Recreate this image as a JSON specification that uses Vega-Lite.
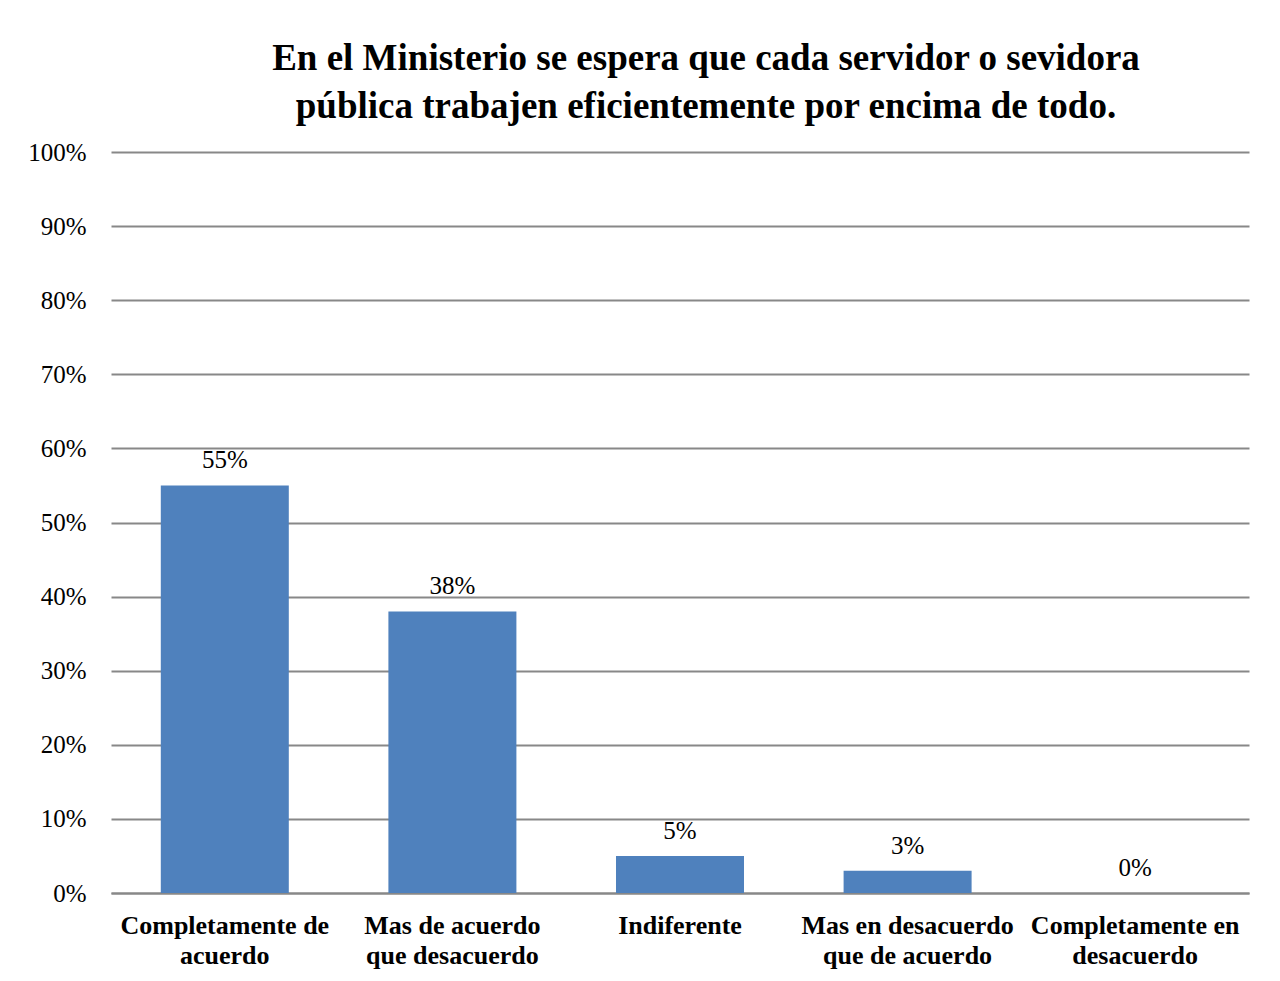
{
  "$schema": "https://vega.github.io/schema/vega-lite/v6.json",
  "autosize": "none",
  "width": 1138,
  "height": 741,
  "padding": {"left": 111, "top": 152, "right": 31, "bottom": 88},
  "background": "white",
  "title": {
    "text": ["En el Ministerio se espera que cada servidor o sevidora", "pública trabajen eficientemente por encima de todo."],
    "font": "Liberation Serif",
    "fontSize": 37,
    "fontWeight": "bold",
    "color": "black",
    "lineHeight": 48,
    "anchor": "middle",
    "dx": 26,
    "offset": 14
  },
  "data": {
    "values": [
      {"categoria": "Completamente de acuerdo", "valor": 0.55},
      {"categoria": "Mas de acuerdo que desacuerdo", "valor": 0.38},
      {"categoria": "Indiferente", "valor": 0.05},
      {"categoria": "Mas en desacuerdo que de acuerdo", "valor": 0.03},
      {"categoria": "Completamente en desacuerdo", "valor": 0.0}
    ]
  },
  "config": {
    "view": {"stroke": null},
    "font": "Liberation Serif"
  },
  "encoding": {
    "x": {
      "field": "categoria",
      "type": "nominal",
      "sort": null,
      "scale": {"paddingInner": 0.4376, "paddingOuter": 0.2188},
      "axis": {
        "title": null,
        "labelAngle": 0,
        "labelFont": "Liberation Serif",
        "labelFontSize": 26,
        "labelFontWeight": "bold",
        "labelColor": "black",
        "labelLineHeight": 30,
        "labelPadding": 19,
        "labelBaseline": "top",
        "ticks": false,
        "domain": true,
        "domainColor": "#888888",
        "domainWidth": 2,
        "labelLimit": 0,
        "labelExpr": "datum.label == 'Completamente de acuerdo' ? ['Completamente de', 'acuerdo'] : datum.label == 'Mas de acuerdo que desacuerdo' ? ['Mas de acuerdo', 'que desacuerdo'] : datum.label == 'Mas en desacuerdo que de acuerdo' ? ['Mas en desacuerdo', 'que de acuerdo'] : datum.label == 'Completamente en desacuerdo' ? ['Completamente en', 'desacuerdo'] : datum.label"
      }
    },
    "y": {
      "field": "valor",
      "type": "quantitative",
      "scale": {"domain": [0, 1]},
      "axis": {
        "title": null,
        "format": ".0%",
        "values": [0, 0.1, 0.2, 0.3, 0.4, 0.5, 0.6, 0.7, 0.8, 0.9, 1.0],
        "labelFont": "Liberation Serif",
        "labelFontSize": 25,
        "labelColor": "black",
        "labelPadding": 25,
        "ticks": false,
        "domain": false,
        "grid": true,
        "gridColor": "#888888",
        "gridWidth": 2
      }
    }
  },
  "layer": [
    {"mark": {"type": "bar", "color": "#4F81BD"}},
    {
      "mark": {"type": "text", "baseline": "bottom", "dy": -12, "font": "Liberation Serif", "fontSize": 25, "color": "black"},
      "encoding": {"text": {"field": "valor", "type": "quantitative", "format": ".0%"}}
    }
  ]
}
